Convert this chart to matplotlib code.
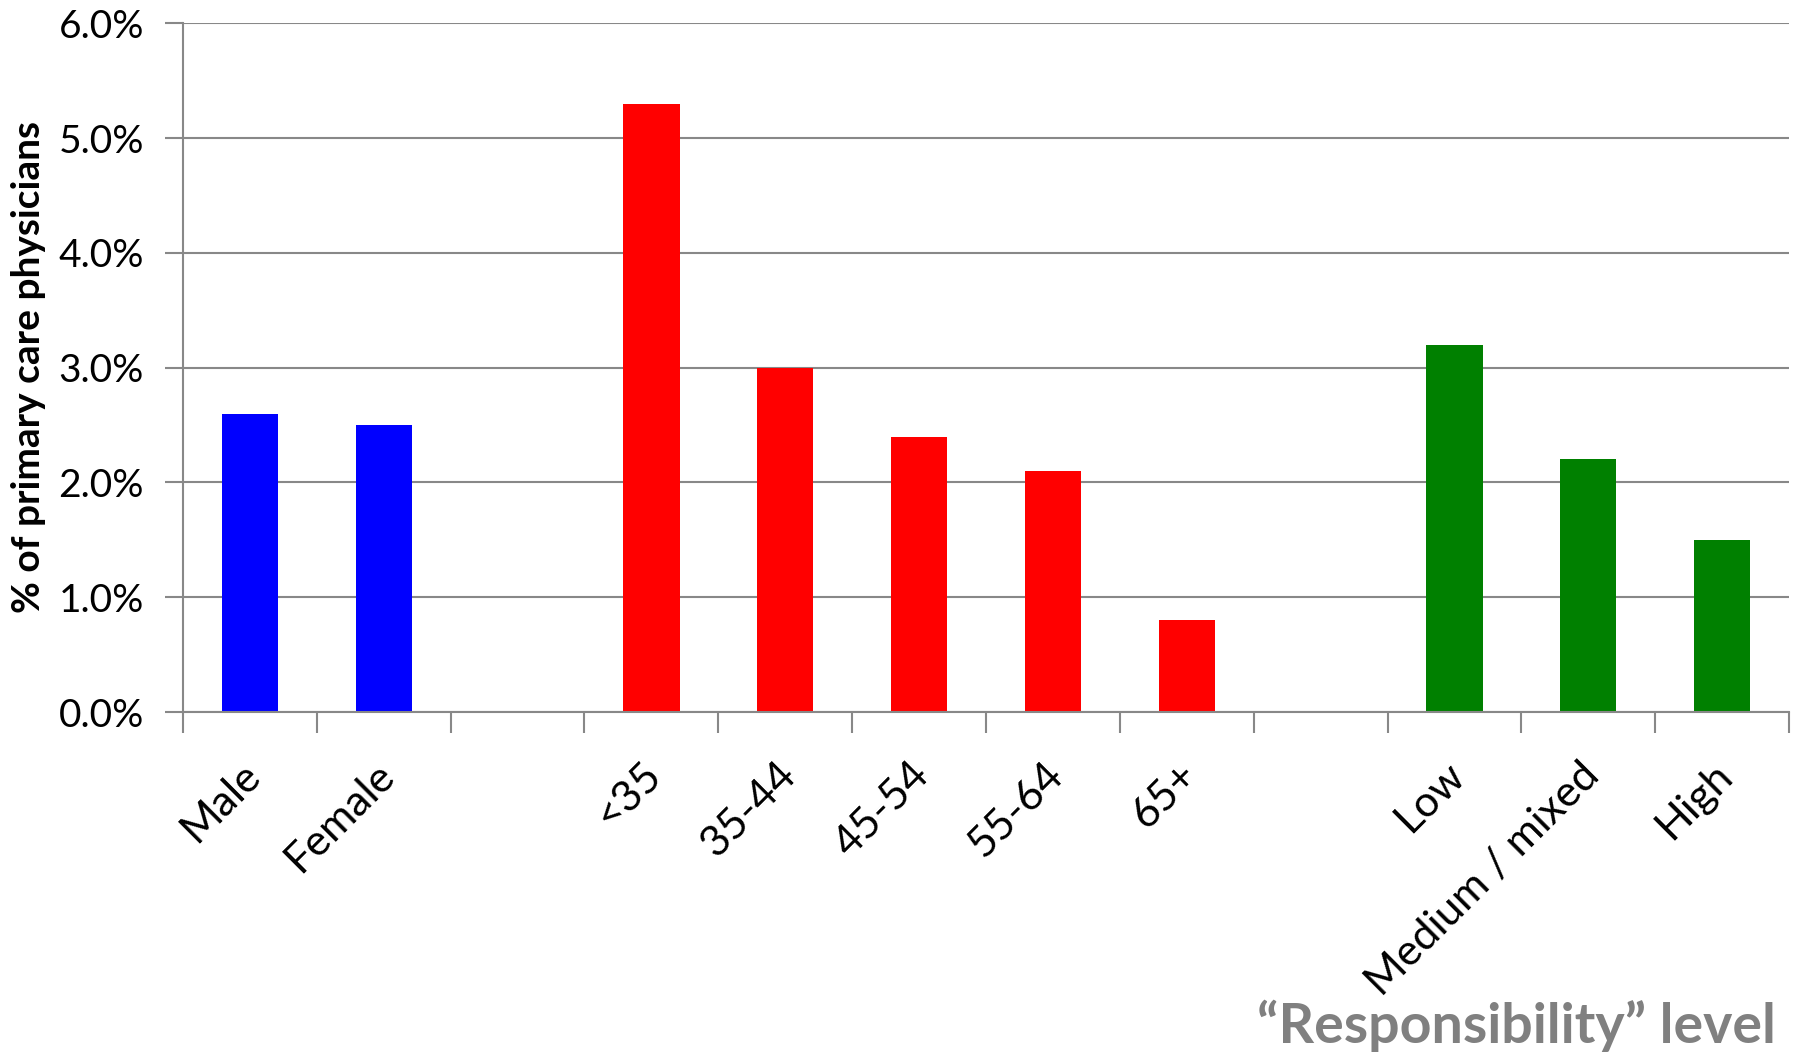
import numpy as np
import matplotlib
matplotlib.use("Agg")
import matplotlib.pyplot as plt
from matplotlib.ticker import FuncFormatter, FixedLocator
import matplotlib.transforms as mtransforms

plt.rcParams['font.family'] = ['Lato', 'DejaVu Sans']

# categories in slot order; None marks an empty gap between groups
categories = ["Male", "Female", None, "<35", "35-44", "45-54", "55-64", "65+",
              None, "Low", "Medium / mixed", "High"]
values = [2.6, 2.5, None, 5.3, 3.0, 2.4, 2.1, 0.8, None, 3.2, 2.2, 1.5]
bar_colors = ["#0000FF", "#0000FF", None, "#FF0000", "#FF0000", "#FF0000",
              "#FF0000", "#FF0000", None, "#008000", "#008000", "#008000"]
y_ticks = [0, 1, 2, 3, 4, 5, 6]

fig = plt.figure(figsize=(17.97, 10.58), dpi=100)
ax = fig.add_axes([0.1018, 0.327, 0.8938, 0.651])

grid_color = "#888888"
x = np.arange(len(categories))
for xi, v, c in zip(x, values, bar_colors):
    if v is None:
        continue
    ax.bar(xi, v, width=0.42, color=c, zorder=3)

ax.set_xlim(-0.5, len(categories) - 0.5)
ax.set_ylim(0, 6)
ax.set_yticks(y_ticks)
ax.yaxis.set_major_formatter(FuncFormatter(lambda v, p: f"{v:.1f}%"))
ax.yaxis.grid(True, color=grid_color, linewidth=1.5, zorder=0)
ax.tick_params(axis='y', length=13, width=1.5, color=grid_color,
               labelsize=28, pad=15)

# category labels under the bar centres, slot boundaries as tick marks
label_pos = [xi for xi, c in zip(x, categories) if c is not None]
label_txt = [c for c in categories if c is not None]
ax.set_xticks(label_pos)
ax.set_xticklabels(label_txt, rotation=45, ha='right', va='center',
                   rotation_mode='anchor', fontsize=31)
ax.tick_params(axis='x', which='major', length=0, pad=41)
ax.xaxis.set_minor_locator(FixedLocator(np.arange(-0.5, len(categories), 1.0)))
ax.tick_params(axis='x', which='minor', length=15, width=1.5, color=grid_color)
offset = mtransforms.ScaledTranslation(0.04, 0, fig.dpi_scale_trans)
for lbl in ax.get_xticklabels():
    lbl.set_transform(lbl.get_transform() + offset)

for side in ['top', 'right']:
    ax.spines[side].set_visible(False)
for side in ['left', 'bottom']:
    ax.spines[side].set_color(grid_color)
    ax.spines[side].set_linewidth(1.5)
    ax.spines[side].set_zorder(4)

fig.text(0.016, 0.653, "% of primary care physicians", rotation=90,
         ha='center', va='center', fontsize=28, fontweight='bold')
fig.text(0.988, 0.014, "\u201cResponsibility\u201d level", ha='right',
         va='baseline', fontsize=40, fontweight='bold', color="#808080")

fig.savefig("out.png", dpi=100)
